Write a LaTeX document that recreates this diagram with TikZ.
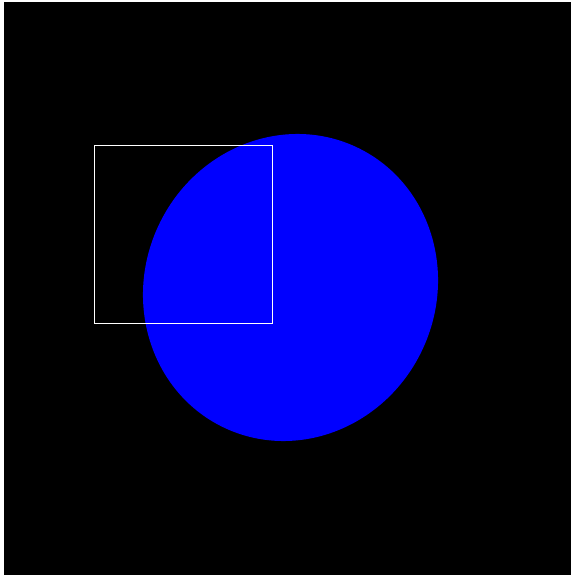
\documentclass[tikz,border=0pt]{standalone}
\begin{document}
\begin{tikzpicture}[x=1pt,y=-1pt,
  bg/.style={fill=black},
  blob/.style={fill=blue},
  frame/.style={draw=white,line width=0.9pt}]
\useasboundingbox (0,0) rectangle (571,575);
\fill[white] (0,0) rectangle (571,575);
\fill[bg] (4,2) rectangle (571,575);
\fill[blob,rotate around={-25:(290.5,287.5)}] (290.5,287.5) ellipse [x radius=145.8, y radius=155.1];
\node[frame,minimum width=178pt,minimum height=178pt,inner sep=0pt] (box) at (183,234) {};
\end{tikzpicture}
\end{document}
